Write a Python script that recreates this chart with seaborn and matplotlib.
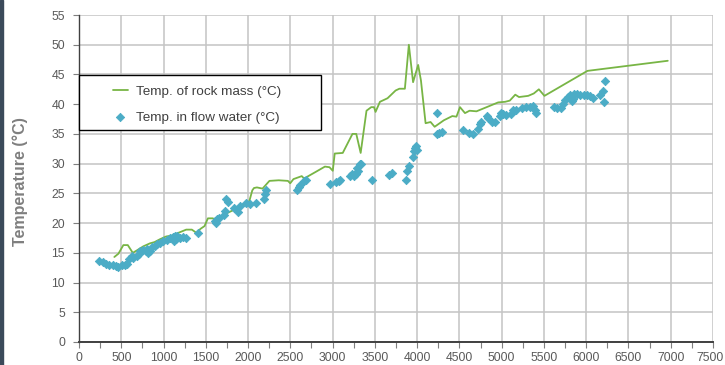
import pandas as pd
import seaborn as sns
import matplotlib.pyplot as plt
from matplotlib.patches import Rectangle
from matplotlib.transforms import ScaledTranslation

# rock mass temperature (line)
rock_x = [418, 466, 525, 577, 636, 684, 762, 841, 893, 960, 1031, 1098, 1138, 1217, 1268, 1335, 1395,
          1434, 1485, 1525, 1584, 1624, 1710, 1829, 1928, 2006, 2017, 2050, 2070, 2105, 2171, 2253, 2362,
          2471, 2499, 2537, 2635, 2663, 2799, 2909, 2963, 3002, 3025, 3120, 3235, 3280, 3332, 3401, 3457,
          3490, 3508, 3560, 3650, 3745, 3790, 3855, 3902, 3952, 4012, 4045, 4100, 4159, 4207, 4317, 4416,
          4465, 4507, 4566, 4620, 4702, 4822, 4959, 5041, 5096, 5161, 5205, 5314, 5380, 5440, 5506, 6014,
          6517, 6965]
rock_y = [14.3, 14.85, 16.3, 16.3, 15.0, 15.4, 16.1, 16.6, 16.8, 17.3, 17.75, 17.9, 18.15, 18.6, 18.9, 18.9, 18.3,
          19.0, 19.5, 20.8, 20.8, 20.4, 21.4, 22.2, 23.0, 23.4, 23.8, 25.5, 25.9, 26.0, 25.8, 27.1, 27.2,
          27.1, 26.7, 27.4, 27.9, 27.5, 28.6, 29.5, 29.4, 28.8, 31.7, 31.8, 35.0, 35.0, 31.8, 38.9, 39.5,
          39.5, 38.7, 40.4, 41.0, 42.3, 42.6, 42.6, 50.0, 43.7, 46.6, 44.0, 36.8, 37.0, 36.2, 37.3, 38.0,
          37.9, 39.5, 38.5, 38.9, 38.8, 39.5, 40.3, 40.4, 40.6, 41.6, 41.2, 41.4, 41.8, 42.5, 41.4, 45.6,
          46.5, 47.3]

# inflow water temperature (points)
water_x = [241, 284, 320, 359, 399, 438, 466, 506, 545, 573, 597, 624, 644, 683, 715, 723, 762, 794, 810,
           820, 841, 861, 901, 921, 960, 991, 1046, 1078, 1110, 1120, 1138, 1150, 1165, 1189, 1236, 1268,
           1402, 1612, 1625, 1632, 1651, 1718, 1730, 1742, 1757, 1829, 1876, 1900, 1979, 2018, 2097, 2184,
           2196, 2212, 2580, 2599, 2619, 2666, 2690, 2975, 3044, 3072, 3092, 3203, 3231, 3250, 3271, 3280,
           3291, 3299, 3323, 3339, 3462, 3669, 3697, 3869, 3880, 3908, 3948, 3968, 3976, 3988, 4000, 4232,
           4240, 4264, 4291, 4547, 4618, 4657, 4724, 4744, 4752, 4823, 4843, 4882, 4921, 4980, 4988, 5012,
           5051, 5106, 5130, 5169, 5236, 5287, 5335, 5374, 5394, 5406, 5618, 5649, 5696, 5727, 5755, 5782,
           5814, 5833, 5845, 5853, 5892, 5931, 5971, 6010, 6049, 6080, 6167, 6198, 6214, 6225]
water_y = [13.7, 13.45, 13.1, 13.0, 12.9, 12.7, 12.55, 12.9, 12.9, 13.1, 14.0, 14.4, 14.1, 14.4, 14.8, 15.35, 15.5, 15.25, 15.7,
           14.9, 15.35, 15.9, 16.1, 16.4, 16.6, 17.0, 17.2, 17.5, 17.6, 17.0, 17.75, 17.3, 17.9, 17.5, 17.6, 17.5,
           18.3, 20.3, 20.0, 20.7, 20.8, 21.4, 22.1, 24.0, 23.5, 22.5, 21.8, 22.9, 23.35, 23.2, 23.35, 24.0,
           24.9, 25.5, 25.6, 26.1, 26.4, 27.0, 27.3, 26.5, 26.9, 27.1, 27.3, 27.9, 28.3, 28.0, 28.2, 28.5,
           29.2, 28.8, 30.0, 29.9, 27.3, 28.1, 28.5, 27.2, 28.7, 29.6, 31.2, 32.1, 32.7, 33.0, 32.3, 35.0,
           38.6, 35.2, 35.3, 35.7, 35.2, 35.0, 35.9, 36.7, 37.0, 38.0, 37.6, 37.0, 37.0, 38.0, 38.6, 38.3,
           38.2, 38.4, 39.0, 39.1, 39.4, 39.5, 39.5, 39.7, 39.1, 38.6, 39.5, 39.3, 39.4, 40.0, 40.7, 41.25,
           41.6, 40.6, 40.85, 41.7, 41.7, 41.6, 41.6, 41.6, 41.4, 41.1, 41.6, 42.3, 40.3, 43.9]

rock = pd.DataFrame({'dist': rock_x, 'temp': rock_y})
water = pd.DataFrame({'dist': water_x, 'temp': water_y})

sns.set_style('white')
plt.rcParams['font.family'] = ['Liberation Sans', 'DejaVu Sans']

green = '#78B545'
blue = '#4BACC6'
grey_txt = '#595959'

fig = plt.figure(figsize=(7.25, 3.65), dpi=100)
ax = fig.add_axes([79/725, 1 - 342/365, 634/725, 327/365])

sns.lineplot(x='dist', y='temp', data=rock, sort=False, color=green, linewidth=1.3,
             label='Temp. of rock mass (°C)', ax=ax, zorder=3)
sns.scatterplot(x='dist', y='temp', data=water, marker='D', s=18, color=blue, edgecolor=blue,
                linewidth=0.6, label='Temp. in flow water (°C)', ax=ax, zorder=4)

ax.set_xlim(0, 7500)
ax.set_ylim(0, 55)
ax.set_xticks(range(0, 7501, 500))
ax.set_xticks(range(250, 7500, 500), minor=True)
ax.set_yticks(range(0, 56, 5))
ax.grid(True, which='major', color='#c4c4c4', linewidth=1.1)
ax.set_axisbelow(True)

for s in ['top', 'right']:
    ax.spines[s].set_visible(False)
ax.spines['left'].set_color('#404040')
ax.spines['left'].set_linewidth(1.0)
ax.spines['bottom'].set_color('#404040')
ax.spines['bottom'].set_linewidth(1.4)

ax.tick_params(axis='both', which='both', direction='out', length=4, width=0.8,
               color='#7f7f7f', labelcolor=grey_txt, labelsize=8.8)
ax.tick_params(axis='x', which='both', bottom=True, pad=3)
ax.tick_params(axis='y', left=True, pad=6)

# nudge the last x label so it stays inside the picture
last = ax.get_xticklabels()[-1]
last.set_transform(last.get_transform() + ScaledTranslation(-3/100, 0, fig.dpi_scale_trans))

ax.set_xlabel('')
ax.set_ylabel('Temperature (°C)', fontsize=11.5, fontweight='bold', color='#7f7f7f')
ax.yaxis.set_label_coords(-0.080, 0.49)

# legend box
ax.add_patch(Rectangle((0, 0.648), 0.382, 0.169, transform=ax.transAxes, facecolor='white',
                       edgecolor='black', linewidth=1.0, zorder=6, clip_on=False))
leg = ax.legend(loc='center left', bbox_to_anchor=(0.053, 0.726), frameon=False, fontsize=9.7,
                borderpad=0, borderaxespad=0, handlelength=1.15, handletextpad=0.6, labelspacing=1.0)
leg.set_zorder(7)
for t in leg.get_texts():
    t.set_color('#404040')

# dark strip on the left edge of the picture
fig.add_artist(Rectangle((0, 0), 3/725, 1, transform=fig.transFigure, color='#3b4a5a'))

plt.savefig('out.png', dpi=100)
